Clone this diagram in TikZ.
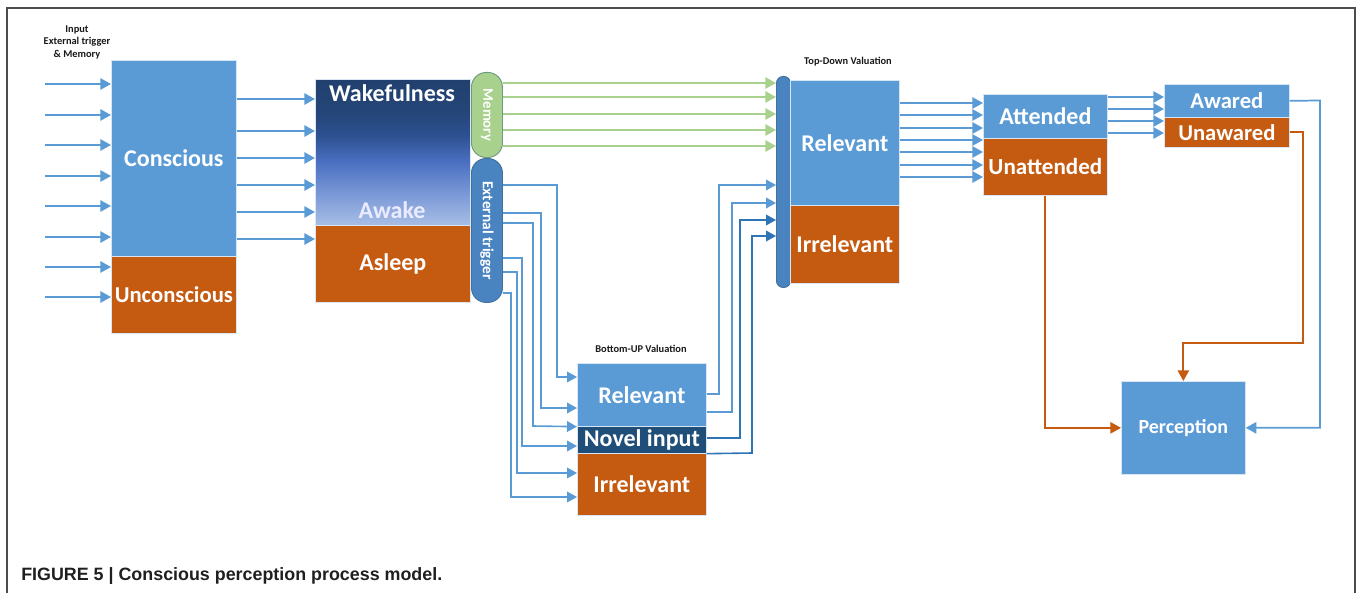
\documentclass[tikz,border=0pt]{standalone}
\usepackage{fontspec}
\setmainfont{Carlito}
\newfontfamily\capfont{Liberation Sans}
\usetikzlibrary{arrows.meta,calc}
\definecolor{bblue}{HTML}{5B9BD5}
\definecolor{dblue}{HTML}{2E75B6}
\definecolor{borange}{HTML}{C55A11}
\definecolor{bnavy}{HTML}{1F4E79}
\definecolor{mgreen}{HTML}{A9D18E}
\definecolor{mgborder}{HTML}{6E9A7E}
\definecolor{pillblue}{HTML}{4A84C0}
\definecolor{pillborder}{HTML}{41719C}
\definecolor{wA}{HTML}{A7BEE5}
\definecolor{wB}{HTML}{7E9BD8}
\definecolor{wC}{HTML}{4A6FC0}
\definecolor{wD}{HTML}{2D5090}
\definecolor{wE}{HTML}{25467A}
\definecolor{wF}{HTML}{21406E}
\pgfdeclareverticalshading{wakeshade}{100bp}{color(0bp)=(wA); color(25bp)=(wA); color(35bp)=(wB); color(47bp)=(wC); color(56bp)=(wD); color(63bp)=(wE); color(75bp)=(wF); color(100bp)=(wF)}
\newdimen\pxu \pxu=0.75pt
\begin{document}
\begin{tikzpicture}[x=0.75pt,y=-0.75pt,
  box/.style={draw=white!75!bblue, line width=0.5pt, inner sep=0pt, anchor=north west, text=white, font=\bfseries\fontsize{18}{20}\selectfont},
  lbl/.style={text=white, inner sep=0pt, font=\bfseries\fontsize{18}{20}\selectfont},
  small/.style={inner sep=0pt, align=center, text=black!90, font=\bfseries\fontsize{7.8}{9.4}\selectfont},
  pill/.style={draw, line width=0.7pt, inner sep=0pt, anchor=north west},
  arr/.style={draw=bblue, line width=1.5pt, -{Triangle[length=8pt,width=8.5pt]}, fill=bblue},
  garr/.style={draw=mgreen, line width=1.5pt, -{Triangle[length=8pt,width=8.5pt]}, fill=mgreen},
  tarr/.style={draw=bblue, line width=1.2pt, -{Triangle[length=7.5pt,width=8pt]}},
  darr/.style={draw=dblue, line width=1.2pt, -{Triangle[length=7.5pt,width=8pt]}},
  oarr/.style={draw=borange, line width=1.3pt, -{Triangle[length=8pt,width=8.5pt]}},
  barr/.style={draw=bblue, line width=1.3pt, -{Triangle[length=8pt,width=8.5pt]}}
]
\useasboundingbox (0,0) rectangle (1358,592);
\begin{scope}
\clip (0,0) rectangle (1358,592);
\draw[black!70, line width=1.3pt] (7,8) rectangle (1355,640);
\end{scope}

% boxes
\node[box, fill=bblue, minimum width=125\pxu, minimum height=196\pxu] (cons) at (111,60) {Conscious};
\node[box, fill=borange, minimum width=125\pxu, minimum height=77\pxu, font=\bfseries\fontsize{17}{19}\selectfont] (uncons) at (111,256) {Unconscious};

\node[box, shading=wakeshade, minimum width=155\pxu, minimum height=146\pxu] (wake) at (315,79) {};
\node[lbl] (wtxt) at (392,93) {Wakefulness};
\node[lbl, text=white!92!blue] (awake) at (392,210) {Awake};
\node[box, fill=borange, minimum width=155\pxu, minimum height=77\pxu] (asleep) at (315,225) {Asleep};

\node[pill, fill=mgreen, draw=mgborder, rounded corners=11pt, minimum width=31\pxu, minimum height=85\pxu] (mem) at (471,72) {};
\node[rotate=-90, text=white, inner sep=0pt, font=\bfseries\fontsize{11}{12}\selectfont] (memtxt) at (mem.center) {Memory};
\node[pill, fill=pillblue, draw=pillborder, rounded corners=11pt, minimum width=31\pxu, minimum height=144\pxu] (ext) at (471,158) {};
\node[rotate=-90, text=white, inner sep=0pt, font=\bfseries\fontsize{11.5}{12}\selectfont] (exttxt) at (ext.center) {External trigger};

\node[pill, fill=pillblue, draw=pillborder, rounded corners=5pt, minimum width=14\pxu, minimum height=211\pxu] (bar) at (776,76) {};
\node[box, fill=bblue, minimum width=109\pxu, minimum height=125\pxu] (tdrel) at (790,80) {Relevant};
\node[box, fill=borange, minimum width=109\pxu, minimum height=78\pxu] (tdirr) at (790,205) {Irrelevant};
\node[small] (tdlbl) at (848,62) {Top-Down Valuation};

\node[box, fill=bblue, minimum width=124\pxu, minimum height=44\pxu] (att) at (983,94) {Attended};
\node[box, fill=borange, minimum width=124\pxu, minimum height=57\pxu, font=\bfseries\fontsize{17.3}{19}\selectfont] (unatt) at (983,138) {Unattended};

\node[box, fill=bblue, minimum width=125\pxu, minimum height=33\pxu, font=\bfseries\fontsize{17}{19}\selectfont] (aw) at (1164,84) {Awared};
\node[box, fill=borange, minimum width=125\pxu, minimum height=30\pxu, font=\bfseries\fontsize{17}{19}\selectfont] (unaw) at (1164,117) {Unawared};

\node[box, fill=bblue, minimum width=124\pxu, minimum height=93\pxu, font=\bfseries\fontsize{15}{17}\selectfont] (perc) at (1121,381) {Perception};

\node[small] (bulbl) at (641,349) {Bottom-UP Valuation};
\node[box, fill=bblue, minimum width=129\pxu, minimum height=63\pxu] (burel) at (577,363) {Relevant};
\node[box, fill=bnavy, minimum width=129\pxu, minimum height=27\pxu] (nov) at (577,426) {Novel input};
\node[box, fill=borange, minimum width=129\pxu, minimum height=62\pxu] (buirr) at (577,453) {Irrelevant};

\node[small] (inlbl) at (77,42) {Input\\External trigger\\\& Memory};

% left input arrows
\foreach \y [count=\i] in {84,115,145,176,206,237,267,297}{
  \coordinate (in\i) at (45,\y);
  \draw[arr] (in\i) -- (cons.west |- in\i);
}
% conscious -> wakefulness
\foreach \y in {99,131,158,185,212,239}{
  \draw[arr] (cons.east |- 0,\y) -- (wake.west |- 0,\y);
}
% memory -> top-down bar
\foreach \y in {83,97,114,130,146}{
  \draw[garr] (mem.east |- 0,\y) -- (bar.west |- 0,\y);
}
% external trigger -> bottom-up
\draw[tarr] (ext.east |- 0,185) -- (557,185) -- (557,377) -- (burel.west |- 0,377);
\draw[tarr] (ext.east |- 0,213) -- (541,213) -- (541,408) -- (burel.west |- 0,408);
\draw[tarr] (ext.east |- 0,223) -- (533,223) -- (533,426) -- (burel.south west);
\draw[tarr] (ext.east |- 0,258) -- (522,258) -- (522,446) -- (nov.west |- 0,446);
\draw[tarr] (ext.east |- 0,272) -- (517,272) -- (517,473) -- (buirr.west |- 0,473);
\draw[tarr] (ext.east |- 0,293) -- (511,293) -- (511,497) -- (buirr.west |- 0,497);
% bottom-up -> top-down bar
\draw[tarr] (burel.east |- 0,394) -- (719,394) -- (719,185) -- (bar.west |- 0,185);
\draw[tarr] (burel.east |- 0,412) -- (732,412) -- (732,203) -- (bar.west |- 0,203);
\draw[darr] (nov.east |- 0,438) -- (740,438) -- (740,220) -- (bar.west |- 0,220);
\draw[darr] (nov.south east) -- (752,453) -- (752,236) -- (bar.west |- 0,236);
% top-down relevant -> attended
\foreach \y in {103,115,128,140,152,165,177}{
  \draw[arr] (tdrel.east |- 0,\y) -- (att.west |- 0,\y);
}
% attended -> awared
\foreach \y in {97,109,121,133}{
  \draw[arr] (att.east |- 0,\y) -- (aw.west |- 0,\y);
}
% to perception
\draw[barr] (aw.east) -- (1320,100.5) |- (perc.east);
\draw[oarr] (unaw.east) -| (1303,343) -| (perc.north);
\draw[oarr] (unatt.south) |- (perc.west);

% caption
\node[anchor=base west, inner sep=0pt, text=black!88, font=\capfont\bfseries\fontsize{13.4}{16}\selectfont] (cap) at (21,580) {FIGURE 5 | Conscious perception process model.};
\end{tikzpicture}
\end{document}
